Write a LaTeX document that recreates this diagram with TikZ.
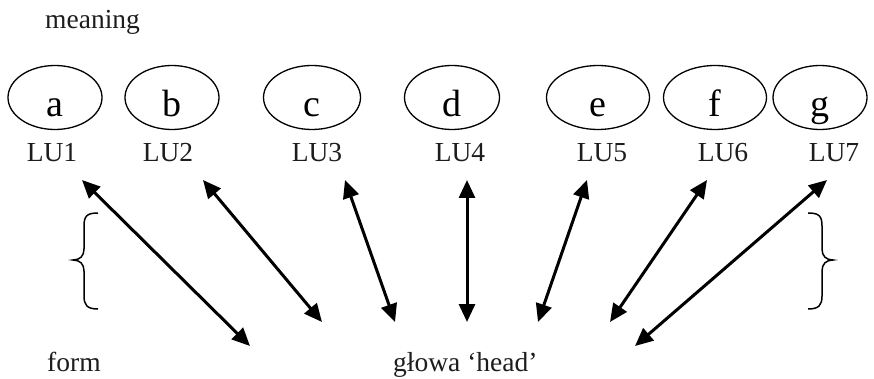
\documentclass[tikz,border=0pt]{standalone}
\usepackage{fontspec}
\setmainfont{Liberation Serif}
\usetikzlibrary{shapes.geometric,arrows.meta}
\definecolor{ink}{RGB}{30,28,28}
\begin{document}
\begin{tikzpicture}[x=1pt,y=-1pt,
  lu/.style={ellipse,draw,line width=1.3pt,inner sep=0pt,minimum height=64pt,
    font=\fontsize{38}{38}\selectfont,text height=39pt,text depth=0pt},
  lulabel/.style={anchor=base,inner sep=0pt,text=ink,font=\fontsize{27.5}{27.5}\selectfont},
  caption/.style={anchor=base west,inner sep=0pt,text=ink,font=\fontsize{27.5}{27.5}\selectfont},
  link/.style={line width=3pt,{Triangle[length=18pt,width=16pt]}-{Triangle[length=18pt,width=16pt]}},
  brace/.style={line width=1.5pt}]
\useasboundingbox (0,0) rectangle (874,379);

% lexical units
\node[lu,minimum width=94pt]  (a) at (55,97.5)  {a};
\node[lu,minimum width=94pt]  (b) at (172,97.5) {b};
\node[lu,minimum width=97pt]  (c) at (312,97.5) {c};
\node[lu,minimum width=95pt]  (d) at (452,97.5) {d};
\node[lu,minimum width=103pt] (e) at (598,97.5) {e};
\node[lu,minimum width=103pt] (f) at (715,97.5) {f};
\node[lu,minimum width=94pt]  (g) at (820,97.5) {g};

\node[lulabel] (lu1) at (52,162)  {LU1};
\node[lulabel] (lu2) at (168,162) {LU2};
\node[lulabel] (lu3) at (317,162) {LU3};
\node[lulabel] (lu4) at (460,162) {LU4};
\node[lulabel] (lu5) at (602,162) {LU5};
\node[lulabel] (lu6) at (723,162) {LU6};
\node[lulabel] (lu7) at (834,162) {LU7};

% level captions and the word form
\node[caption] (meaning) at (45,29)  {meaning};
\node[caption] (form)    at (47,371) {form};
\node[caption] (glowa)   at (393,371) {głowa ‘head’};

% arrow end points
\coordinate (t1) at (82,180);  \coordinate (s1) at (250,346);
\coordinate (t2) at (203,180); \coordinate (s2) at (322,322);
\coordinate (t3) at (345,180); \coordinate (s3) at (395,322);
\coordinate (t4) at (467,180); \coordinate (s4) at (467,322);
\coordinate (t5) at (587,180); \coordinate (s5) at (538,322);
\coordinate (t6) at (707,180); \coordinate (s6) at (610,322);
\coordinate (t7) at (827,180); \coordinate (s7) at (635,346);

\foreach \i in {1,...,7} \draw[link] (t\i) -- (s\i);

% braces
\draw[brace] (98,213) .. controls (87,213) and (84,216) .. (84,226) -- (84,249)
  .. controls (84,256) and (80,260) .. (73,260)
  .. controls (80,260) and (84,264) .. (84,271) -- (84,296)
  .. controls (84,305) and (87,309) .. (98,309);
\draw[brace] (808,213) .. controls (819,213) and (822,216) .. (822,226) -- (822,249)
  .. controls (822,256) and (826,260) .. (833,260)
  .. controls (826,260) and (822,264) .. (822,271) -- (822,296)
  .. controls (822,305) and (819,309) .. (808,309);
\end{tikzpicture}
\end{document}
